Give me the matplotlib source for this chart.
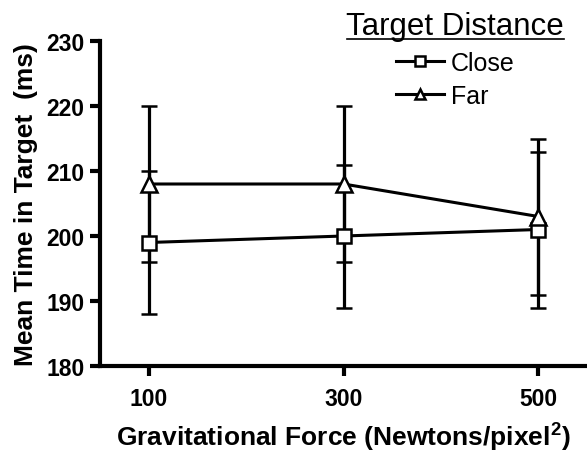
import matplotlib.pyplot as plt
from matplotlib.lines import Line2D

plt.rcParams['font.family'] = ['Liberation Sans', 'DejaVu Sans']
plt.rcParams['mathtext.fontset'] = 'custom'
plt.rcParams['mathtext.rm'] = 'Liberation Sans'
plt.rcParams['mathtext.bf'] = 'Liberation Sans:bold'

# data
force = [100, 300, 500]
close_mean = [199, 200, 201]
close_err = [11, 11, 12]
far_mean = [208, 208, 203]
far_err = [12, 12, 12]
yticks = [180, 190, 200, 210, 220, 230]

fig = plt.figure(figsize=(5.87, 4.56), dpi=100)
ax = fig.add_axes([100 / 587, 89 / 456, 487 / 587, 325 / 456])

kw = dict(color='black', lw=2.2, elinewidth=2.3, capsize=5.5, capthick=2.3,
          markerfacecolor='white', markeredgewidth=1.8)
ax.errorbar(force, close_mean, yerr=close_err, marker='s', markersize=10, **kw)
ax.errorbar(force, far_mean, yerr=far_err, marker='^', markersize=11, **kw)

ax.set_xlim(50, 550)
ax.set_ylim(180, 230)
ax.set_xticks(force)
ax.set_yticks(yticks)
for s in ['top', 'right']:
    ax.spines[s].set_visible(False)
for s in ['left', 'bottom']:
    ax.spines[s].set_linewidth(3)
ax.tick_params(width=3, length=7, labelsize=16.5, pad=4)
for lab in ax.get_xticklabels() + ax.get_yticklabels():
    lab.set_fontweight('bold')
ax.tick_params(axis='x', pad=8)

ax.set_ylabel('Mean Time in Target  (ms)', fontsize=19, fontweight='bold', labelpad=6)
ax.set_xlabel(r'Gravitational Force (Newtons/pixel$^\mathbf{2}$)', fontsize=19,
              fontweight='bold', labelpad=7)

handles = [Line2D([], [], color='black', lw=2.2, marker='s', markersize=7,
                  markerfacecolor='white', markeredgewidth=1.8),
           Line2D([], [], color='black', lw=2.2, marker='^', markersize=7,
                  markerfacecolor='white', markeredgewidth=1.8)]
leg = ax.legend(handles, ['Close', 'Far'], title='Target Distance', loc='upper left',
                bbox_to_anchor=(329 / 587, 1.012), bbox_transform=fig.transFigure,
                frameon=False, fontsize=18, title_fontsize=22.5,
                handlelength=1.9, handletextpad=0.3, labelspacing=0.38,
                borderpad=0.2)
leg._legend_box.align = 'center'
leg._legend_box._children[0].sep = 2

# underline the legend title
fig.canvas.draw()
bb = leg.get_title().get_window_extent().transformed(fig.transFigure.inverted())
fig.add_artist(Line2D([bb.x0, bb.x1], [bb.y0 + 0.004, bb.y0 + 0.004],
                      color='black', lw=1.2, transform=fig.transFigure))

fig.savefig('out.png', dpi=100)
